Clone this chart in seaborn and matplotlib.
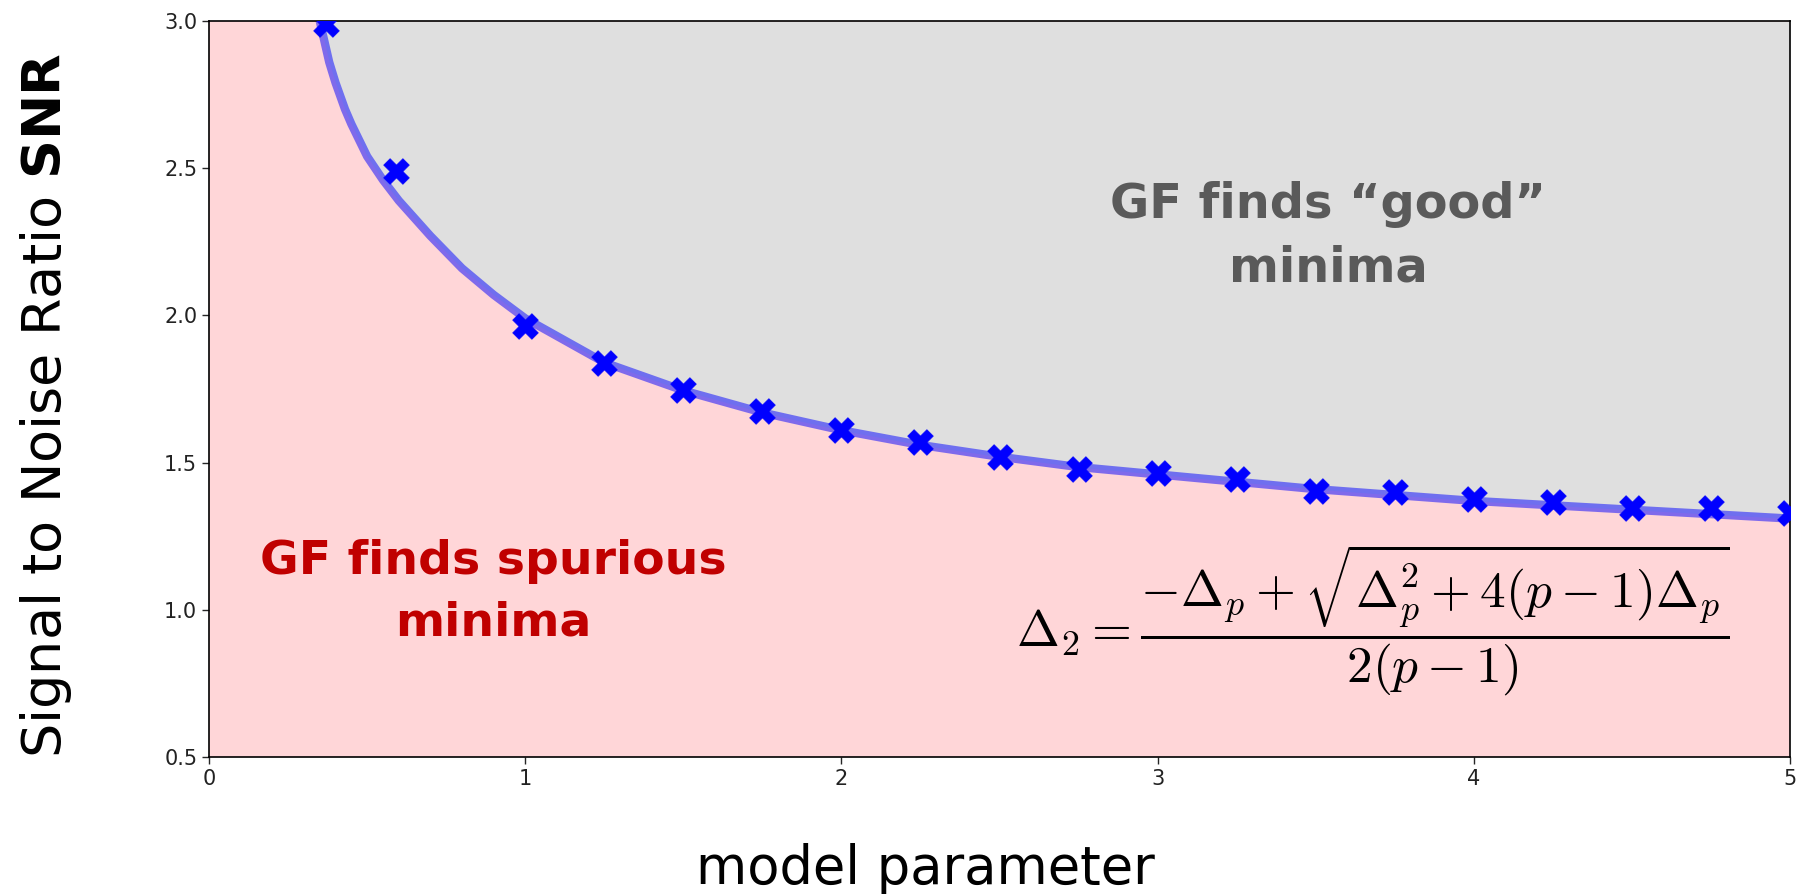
import numpy as np
import pandas as pd
import matplotlib
matplotlib.use("Agg")
import matplotlib.pyplot as plt
import seaborn as sns

# ─────────────────────────────────────────────
#  Data
# ─────────────────────────────────────────────
curve_x = [0.35, 0.38, 0.40, 0.43, 0.45, 0.50, 0.55, 0.60, 0.65, 0.70, 0.80,
           0.90, 1.00, 1.25, 1.50, 1.75, 2.00, 2.25, 2.50, 2.75, 3.00,
           3.50, 4.00, 4.50, 5.00]
curve_y = [3.00, 2.86, 2.79, 2.70, 2.65, 2.54, 2.46, 2.39, 2.33, 2.27, 2.16,
           2.07, 1.99, 1.84, 1.745, 1.67, 1.61, 1.56, 1.52, 1.485, 1.46,
           1.41, 1.37, 1.34, 1.31]

marker_x = [0.37, 0.59, 1.00, 1.25, 1.50, 1.75, 2.00, 2.25, 2.50, 2.75,
            3.00, 3.25, 3.50, 3.75, 4.00, 4.25, 4.50, 4.75, 5.00]
marker_y = [2.99, 2.49, 1.965, 1.84, 1.745, 1.675, 1.61, 1.57, 1.52, 1.48,
            1.465, 1.445, 1.405, 1.40, 1.375, 1.365, 1.345, 1.345, 1.33]

x_ticks = [0, 1, 2, 3, 4, 5]
y_ticks = [0.5, 1.0, 1.5, 2.0, 2.5, 3.0]

curve_df = pd.DataFrame({"p": curve_x, "snr": curve_y})
marker_df = pd.DataFrame({"p": marker_x, "snr": marker_y})

# ─────────────────────────────────────────────
#  Plot
# ─────────────────────────────────────────────
sns.set_style("ticks")
plt.rcParams["font.family"] = ["DejaVu Sans"]

fig = plt.figure(figsize=(18.04, 8.94), dpi=100)
ax = fig.add_axes([0.1159, 0.1532, 0.8763, 0.8233])

PINK = "#ffd6d8"
GREY = "#dfdfdf"
ax.set_facecolor(PINK)
ax.fill_between(curve_x, curve_y, 3.0, color=GREY, lw=0, zorder=0)

sns.lineplot(data=curve_df, x="p", y="snr", ax=ax, color="blue",
             alpha=0.5, lw=6, zorder=2)
sns.scatterplot(data=marker_df, x="p", y="snr", ax=ax, marker="X",
                color="blue", s=340, edgecolor="blue", linewidth=0.5, zorder=3)

ax.set_xlim(0, 5)
ax.set_ylim(0.5, 3.0)
ax.set_xticks(x_ticks)
ax.set_yticks(y_ticks)
ax.set_xticklabels([str(t) for t in x_ticks])
ax.set_yticklabels([f"{t:.1f}" for t in y_ticks])
ax.tick_params(labelsize=15, labelcolor="#222222", length=5, width=1)
for s in ax.spines.values():
    s.set_color("black")
    s.set_linewidth(1.2)

ax.set_xlabel("model parameter", fontsize=38, va="center", color="black")
ax.xaxis.set_label_coords(0.453, -0.152)
ax.set_ylabel(r"Signal to Noise Ratio $\mathbf{SNR}$", fontsize=39,
              va="center", color="black", math_fontfamily="dejavusans")
ax.yaxis.set_label_coords(-0.103, 0.478)

ax.text(3.54, 2.27, "GF finds \u201cgood\u201d\nminima", ha="center",
        va="center", fontsize=34.5, fontweight="bold", color="#5a5a5a",
        linespacing=1.45)
ax.text(0.90, 1.06, "GF finds spurious\nminima", ha="center", va="center",
        fontsize=34, fontweight="bold", color="#c00000", linespacing=1.45)
ax.text(3.68, 0.967,
        r"$\Delta_2 = \dfrac{-\Delta_p + \sqrt{\Delta_p^2 + 4(p-1)\Delta_p}}{2(p-1)}$",
        ha="center", va="center", fontsize=37, color="black",
        math_fontfamily="cm")

fig.savefig("out.png", dpi=100)
